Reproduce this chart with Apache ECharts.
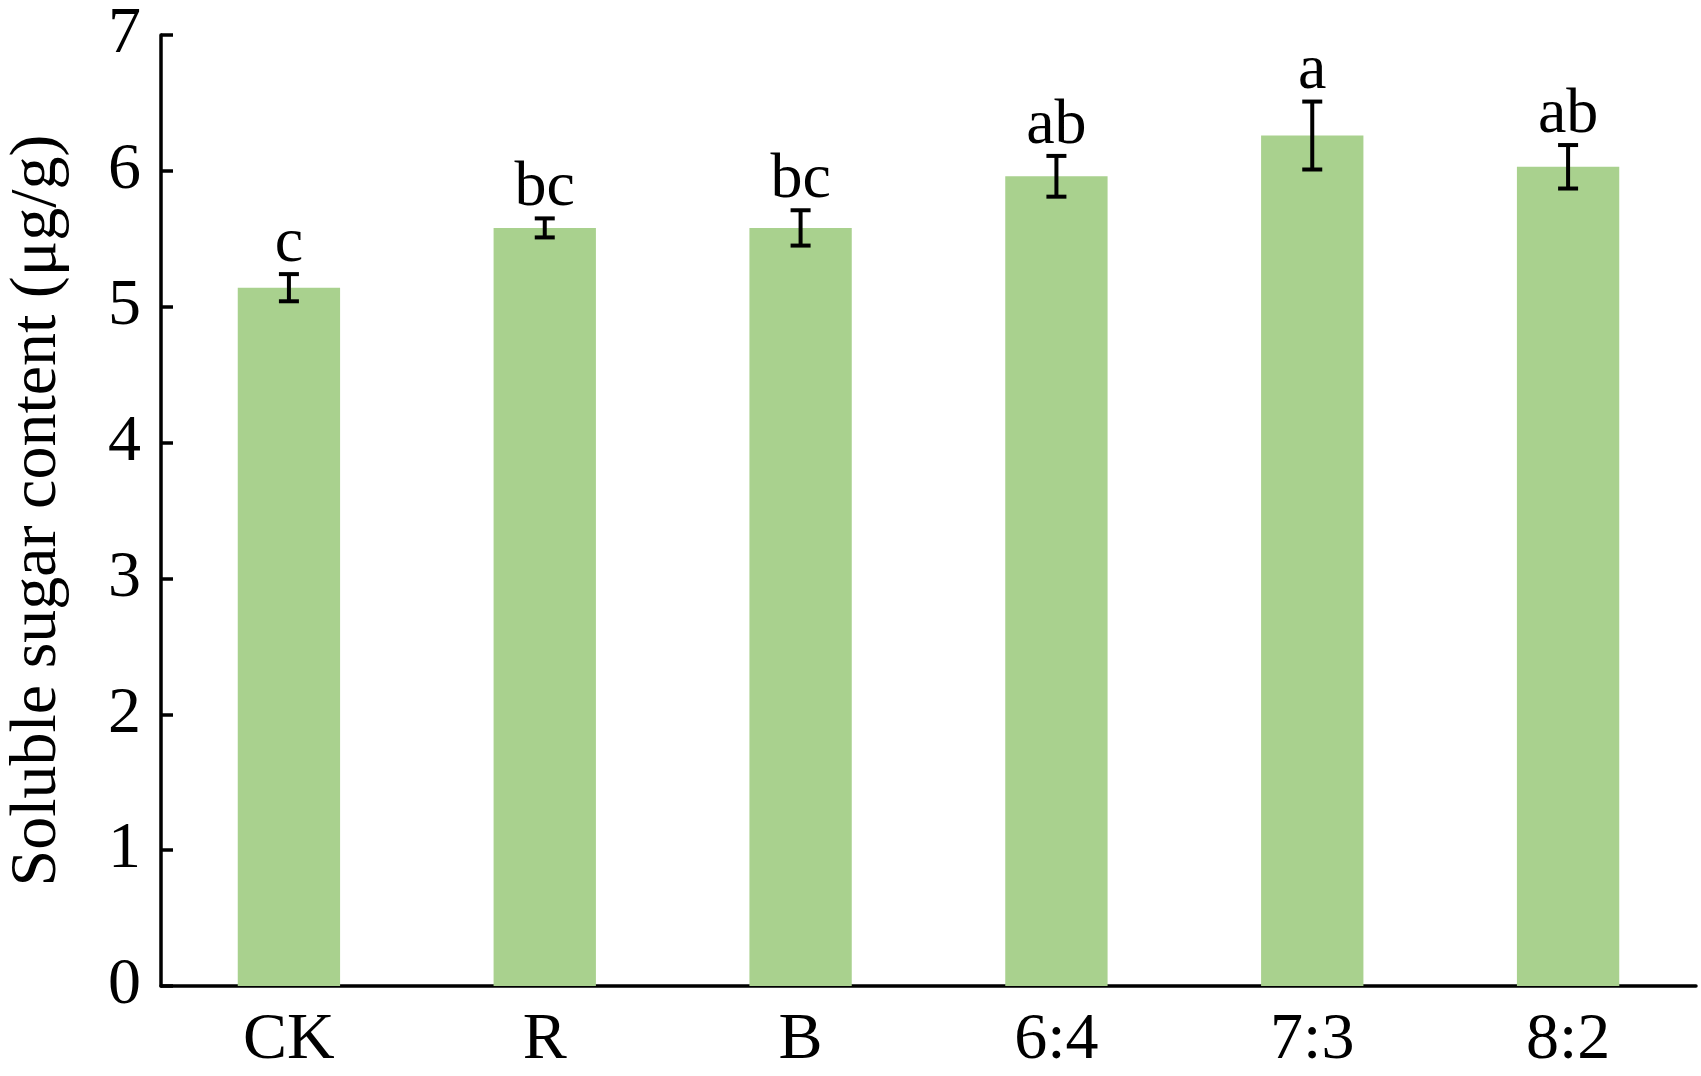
<!DOCTYPE html>
<html>
<head>
<meta charset="utf-8">
<script src="https://cdn.jsdelivr.net/npm/echarts@6/dist/echarts.min.js"></script>
<style>html,body{margin:0;padding:0;background:#fff;}#chart{width:1701px;height:1076px;}</style>
</head>
<body>
<div id="chart"></div>
<script>
const categories = ['CK', 'R', 'B', '6:4', '7:3', '8:2'];
const means = [5.14, 5.58, 5.58, 5.96, 6.26, 6.03];
const errors = [0.10, 0.07, 0.13, 0.15, 0.25, 0.16];
const letters = ['c', 'bc', 'bc', 'ab', 'a', 'ab'];
const yMin = 0, yMax = 7, yInterval = 1;

const FONT = '"Liberation Serif", "Times New Roman", serif';
const errData = means.map((m, i) => [i, m - errors[i], m + errors[i], letters[i]]);

const chart = echarts.init(document.getElementById('chart'), null, {renderer: 'canvas'});
chart.setOption({
  backgroundColor: '#ffffff',
  animation: false,
  grid: {left: 161, right: 5, top: 35, bottom: 90, containLabel: false, outerBoundsMode: 'none'},
  xAxis: {
    type: 'category',
    data: categories,
    boundaryGap: true,
    axisLine: {show: true, lineStyle: {color: '#000', width: 3.5}},
    axisTick: {show: false},
    axisLabel: {color: '#000', fontFamily: FONT, fontSize: 66, margin: 22}
  },
  yAxis: {
    type: 'value',
    min: yMin, max: yMax, interval: yInterval,
    name: 'Soluble sugar content (μg/g)',
    nameLocation: 'middle',
    nameRotate: 90,
    nameGap: 90,
    nameTextStyle: {color: '#000', fontFamily: FONT, fontSize: 66},
    axisLine: {show: true, lineStyle: {color: '#000', width: 3.5}},
    axisTick: {show: true, inside: true, length: 12, lineStyle: {color: '#000', width: 3.5}},
    axisLabel: {color: '#000', fontFamily: FONT, fontSize: 66, margin: 20},
    splitLine: {show: false}
  },
  series: [
    {
      type: 'bar',
      data: means,
      barWidth: '40%',
      itemStyle: {color: '#A9D18E'}
    },
    {
      type: 'custom',
      data: errData,
      z: 10,
      renderItem: function (params, api) {
        const i = api.value(0);
        const lo = api.coord([i, api.value(1)]);
        const hi = api.coord([i, api.value(2)]);
        const hw = 10;
        const st = {stroke: '#000', lineWidth: 4};
        return {
          type: 'group',
          children: [
            {type: 'line', shape: {x1: lo[0], y1: lo[1], x2: hi[0], y2: hi[1]}, style: st},
            {type: 'line', shape: {x1: lo[0] - hw, y1: lo[1], x2: lo[0] + hw, y2: lo[1]}, style: st},
            {type: 'line', shape: {x1: hi[0] - hw, y1: hi[1], x2: hi[0] + hw, y2: hi[1]}, style: st},
            {type: 'text', style: {
              text: letters[params.dataIndex],
              x: hi[0], y: hi[1] + 2,
              textAlign: 'center', textVerticalAlign: 'bottom',
              fill: '#000', font: '64px ' + FONT
            }}
          ]
        };
      }
    }
  ]
});
</script>
</body>
</html>
